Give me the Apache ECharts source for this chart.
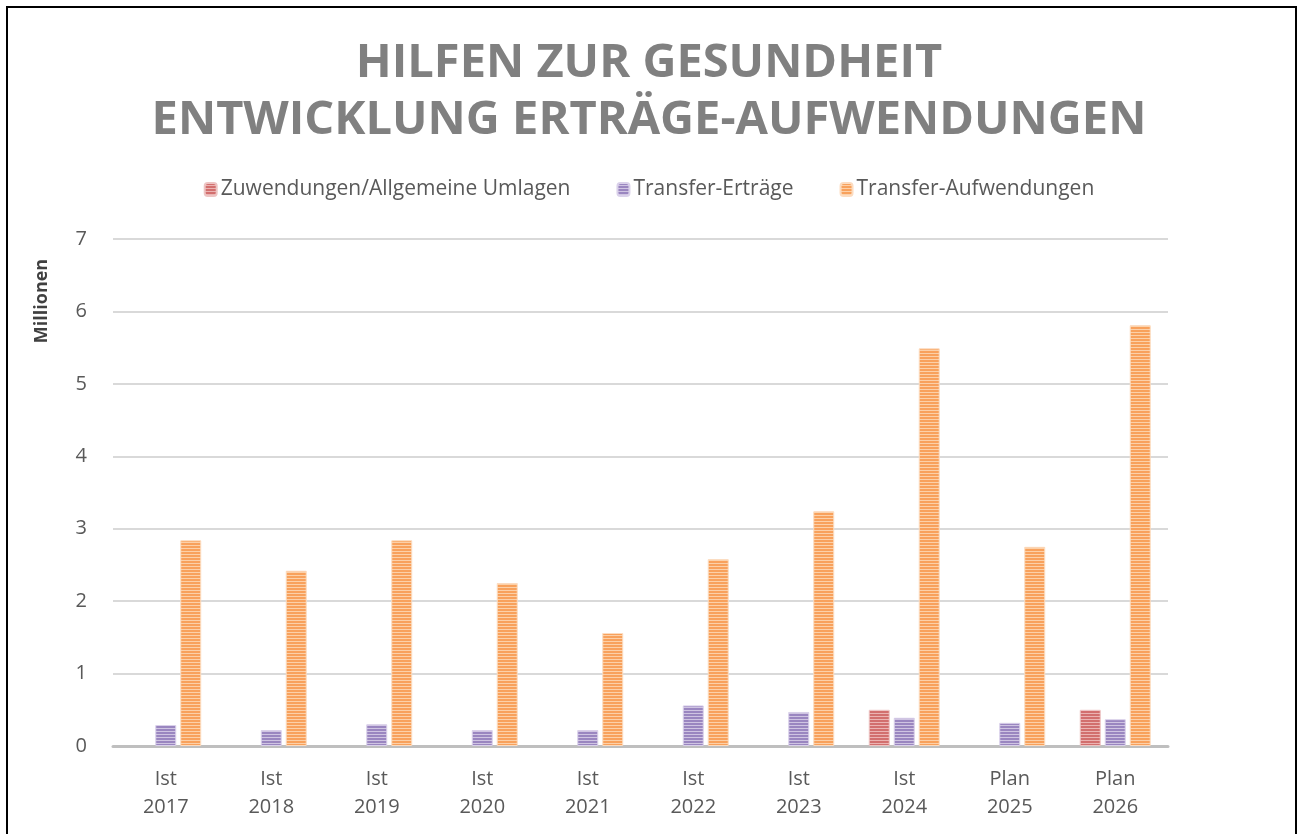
<!DOCTYPE html>
<html>
<head>
<meta charset="utf-8">
<script src="https://cdn.jsdelivr.net/npm/echarts@6/dist/echarts.min.js"></script>
<style>
  html, body { margin: 0; padding: 0; background: #fff; }
  #chart { width: 1298px; height: 834px; }
</style>
</head>
<body>
<div id="chart"></div>
<script>
// Daten (Millionen)
const categories = ['Ist\n2017', 'Ist\n2018', 'Ist\n2019', 'Ist\n2020', 'Ist\n2021', 'Ist\n2022', 'Ist\n2023', 'Ist\n2024', 'Plan\n2025', 'Plan\n2026']
const zuwendungen = [null, null, null, null, null, null, null, 0.50, null, 0.50]
const transferErtraege = [0.29, 0.22, 0.30, 0.22, 0.22, 0.56, 0.47, 0.39, 0.32, 0.37]
const transferAufwendungen = [2.84, 2.42, 2.84, 2.25, 1.56, 2.58, 3.24, 5.49, 2.75, 5.81]
const seriesNames = ['Zuwendungen/Allgemeine Umlagen', 'Transfer-Erträge', 'Transfer-Aufwendungen']

const FONT = '"Open Sans", "Noto Sans", sans-serif'

// horizontale Streifen wie im Excel-Muster
function stripes(dark, light) {
  const c = document.createElement('canvas')
  c.width = 4
  c.height = 3
  const ctx = c.getContext('2d')
  ctx.fillStyle = dark
  ctx.fillRect(0, 0, 4, 3)
  ctx.fillStyle = light
  ctx.fillRect(0, 2, 4, 1)
  return { image: c, repeat: 'repeat' }
}

const styles = [
  { color: stripes('#D26F6E', '#EBB3B2'), borderColor: '#EDC4C3' },
  { color: stripes('#9A86C0', '#CFC4E2'), borderColor: '#DAD1EA' },
  { color: stripes('#F8A15C', '#FCD0A8'), borderColor: '#FCDCC0' },
]
const seriesData = [zuwendungen, transferErtraege, transferAufwendungen]

const chart = echarts.init(document.getElementById('chart'))

chart.setOption({
  animation: false,
  title: {
    text: 'HILFEN ZUR GESUNDHEIT\nENTWICKLUNG ERTRÄGE-AUFWENDUNGEN',
    left: 'center',
    top: 30,
    textStyle: { fontFamily: FONT, fontSize: 47, fontWeight: 'bold', color: '#808080', lineHeight: 57 },
  },
  legend: {
    top: 174,
    left: 'center',
    itemWidth: 12,
    itemHeight: 13,
    itemGap: 46,
    textStyle: { fontFamily: FONT, fontSize: 21, color: '#595959', padding: [0, 0, 0, -1] },
    data: seriesNames,
  },
  grid: { left: 113, right: 130, top: 239, bottom: 88 },
  xAxis: {
    type: 'category',
    data: categories,
    axisLine: { lineStyle: { color: '#BFBFBF', width: 3 } },
    axisTick: { show: false },
    axisLabel: { fontFamily: FONT, fontSize: 20, color: '#595959', lineHeight: 28, margin: 19, interval: 0 },
  },
  yAxis: {
    type: 'value',
    min: 0,
    max: 7,
    interval: 1,
    axisLine: { show: false },
    axisTick: { show: false },
    axisLabel: { fontFamily: FONT, fontSize: 20, color: '#595959', margin: 26 },
    splitLine: { lineStyle: { color: '#D9D9D9', width: 2 } },
  },
  graphic: [
    {
      type: 'rect',
      shape: { x: 7, y: 7, width: 1289, height: 850 },
      style: { fill: 'none', stroke: '#000', lineWidth: 2 },
      silent: true,
    },
    {
      type: 'text',
      x: 42,
      y: 301,
      rotation: Math.PI / 2,
      style: {
        text: 'Millionen',
        fontFamily: FONT,
        fontSize: 18,
        fontWeight: 'bold',
        fill: '#404040',
        align: 'center',
        verticalAlign: 'middle',
      },
    },
  ],
  series: seriesNames.map((name, i) => ({
    name,
    type: 'bar',
    data: seriesData[i],
    barWidth: 21,
    barGap: '19%',
    itemStyle: { color: styles[i].color, borderColor: styles[i].borderColor, borderWidth: 1 },
  })),
})
</script>
</body>
</html>
